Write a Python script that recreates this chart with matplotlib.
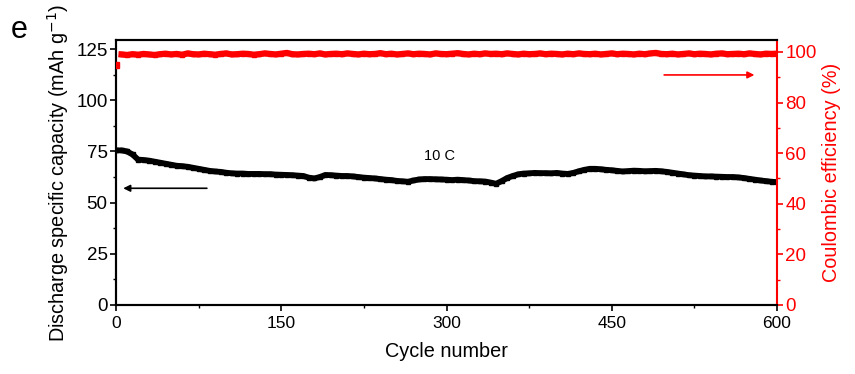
import matplotlib
matplotlib.use("Agg")
import matplotlib.pyplot as plt
from matplotlib.ticker import MultipleLocator

plt.rcParams['font.family'] = ['Liberation Sans', 'DejaVu Sans']

cycles = list(range(0, 601, 5))
capacity = [
    75.5, 75.5, 75.0, 73.5, 71.0, 70.8, 70.5, 70.0, 69.5, 69.0,
    68.5, 68.0, 67.8, 67.5, 67.0, 66.5, 66.0, 65.5, 65.2, 65.0,
    64.6, 64.3, 64.2, 64.2, 64.0, 64.0, 64.0, 63.9, 63.9, 63.7,
    63.6, 63.5, 63.4, 63.2, 63.0, 62.2, 61.8, 62.5, 63.5, 63.4,
    63.2, 63.0, 63.0, 62.8, 62.5, 62.2, 62.0, 61.8, 61.5, 61.2,
    61.0, 60.6, 60.4, 60.2, 60.8, 61.3, 61.5, 61.5, 61.4, 61.3,
    61.2, 61.0, 61.2, 61.0, 60.8, 60.5, 60.4, 60.3, 59.8, 59.2,
    60.5, 62.0, 63.0, 63.8, 64.2, 64.3, 64.5, 64.4, 64.4, 64.3,
    64.5, 64.2, 64.0, 64.5, 65.3, 66.0, 66.5, 66.5, 66.3, 66.0,
    65.8, 65.5, 65.2, 65.4, 65.6, 65.5, 65.3, 65.4, 65.5, 65.3,
    65.0, 64.6, 64.2, 63.8, 63.4, 63.2, 63.0, 62.8, 62.8, 62.7,
    62.6, 62.5, 62.5, 62.3, 62.0, 61.6, 61.2, 60.8, 60.5, 60.2,
    60.0,
]
efficiency = [
    95.0, 99.0, 98.8, 99.1, 98.9, 99.2, 99.0, 98.8, 99.1, 99.3,
    99.0, 99.2, 98.9, 99.4, 99.1, 99.0, 99.3, 99.1, 98.9, 99.2,
    99.4, 99.0, 99.1, 99.3, 99.2, 98.9, 99.1, 99.4, 99.2, 99.0,
    99.3, 99.6, 99.1, 99.0, 99.2, 99.3, 99.1, 99.4, 99.0, 99.2,
    99.3, 99.1, 99.4, 99.2, 99.0, 99.3, 99.1, 99.2, 99.5, 99.1,
    99.3, 99.0, 99.2, 99.4, 99.1, 99.3, 99.2, 99.0, 99.4, 99.2,
    99.1, 99.3, 99.5, 99.2, 99.0, 99.3, 99.1, 99.4, 99.2, 99.3,
    99.1, 99.4, 99.2, 99.0, 99.3, 99.1, 99.2, 99.4, 99.1, 99.3,
    99.2, 99.0, 99.3, 99.1, 99.4, 99.2, 99.1, 99.3, 99.0, 99.2,
    99.4, 99.1, 99.3, 99.2, 99.0, 99.3, 99.1, 99.4, 99.6, 99.2,
    99.1, 99.3, 99.0, 99.2, 99.4, 99.1, 99.3, 99.2, 99.0, 99.3,
    99.4, 99.1, 99.2, 99.3, 99.1, 99.4, 99.2, 99.0, 99.3, 99.2,
    99.3,
]
xticks = [0, 150, 300, 450, 600]
left_ticks = [0, 25, 50, 75, 100, 125]
right_ticks = [0, 20, 40, 60, 80, 100]

RED = '#ff0000'

fig = plt.figure(figsize=(8.55, 3.74), dpi=100)
ax = fig.add_axes([0.1357, 0.1845, 0.9088 - 0.1357, 0.893 - 0.1845])
ax2 = ax.twinx()

ax.plot(cycles, capacity, color='black', marker='s', ms=3.2, lw=4.2, zorder=3)
ax2.plot(cycles[1:], efficiency[1:], color=RED, marker='s', ms=3.2, lw=4.5, zorder=3)
ax2.plot(cycles[:1], efficiency[:1], color=RED, marker='s', ms=4, lw=0, zorder=3)

ax.set_xlim(0, 600)
ax.set_ylim(0, 129.4)
ax2.set_ylim(0, 104.7)

ax.set_xticks(xticks)
ax.set_yticks(left_ticks)
ax2.set_yticks(right_ticks)
ax.xaxis.set_minor_locator(MultipleLocator(75))
ax.yaxis.set_minor_locator(MultipleLocator(12.5))
ax2.yaxis.set_minor_locator(MultipleLocator(10))

ax.tick_params(axis='x', which='major', direction='out', length=4, width=1.2, labelsize=12.5, pad=4)
ax.tick_params(axis='y', which='major', direction='out', length=4, width=1.2, labelsize=13.5, pad=2)
ax.tick_params(axis='both', which='minor', direction='out', length=2.5, width=1.0)
ax2.tick_params(axis='y', which='major', direction='out', length=4, width=1.2, labelsize=13.5,
                colors=RED, pad=2)
ax2.tick_params(axis='y', which='minor', direction='out', length=2.5, width=1.0, colors=RED)

for s in ['left', 'top', 'bottom']:
    ax.spines[s].set_linewidth(1.5)
    ax2.spines[s].set_linewidth(1.5)
ax2.spines['right'].set_color(RED)
ax2.spines['right'].set_linewidth(1.5)
ax.spines['right'].set_visible(False)

ax.set_xlabel('Cycle number', fontsize=14.3, labelpad=8)
ax.set_ylabel('Discharge specific capacity (mAh g$^{-1}$)', fontsize=14.3, labelpad=4)
ax2.set_ylabel('Coulombic efficiency (%)', fontsize=14.3, color=RED, labelpad=4)

ax.text(294, 73, '10 C', fontsize=10.5, ha='center', va='center')
ax.annotate('', xy=(4, 57), xytext=(85, 57),
            arrowprops=dict(arrowstyle='-|>', color='black', lw=1.2, mutation_scale=10))
ax2.annotate('', xy=(582, 90.9), xytext=(495, 90.9),
             arrowprops=dict(arrowstyle='-|>', color=RED, lw=1.2, mutation_scale=10))

fig.text(0.012, 0.92, 'e', fontsize=22, ha='left', va='center')

fig.savefig('out.png', dpi=100)
